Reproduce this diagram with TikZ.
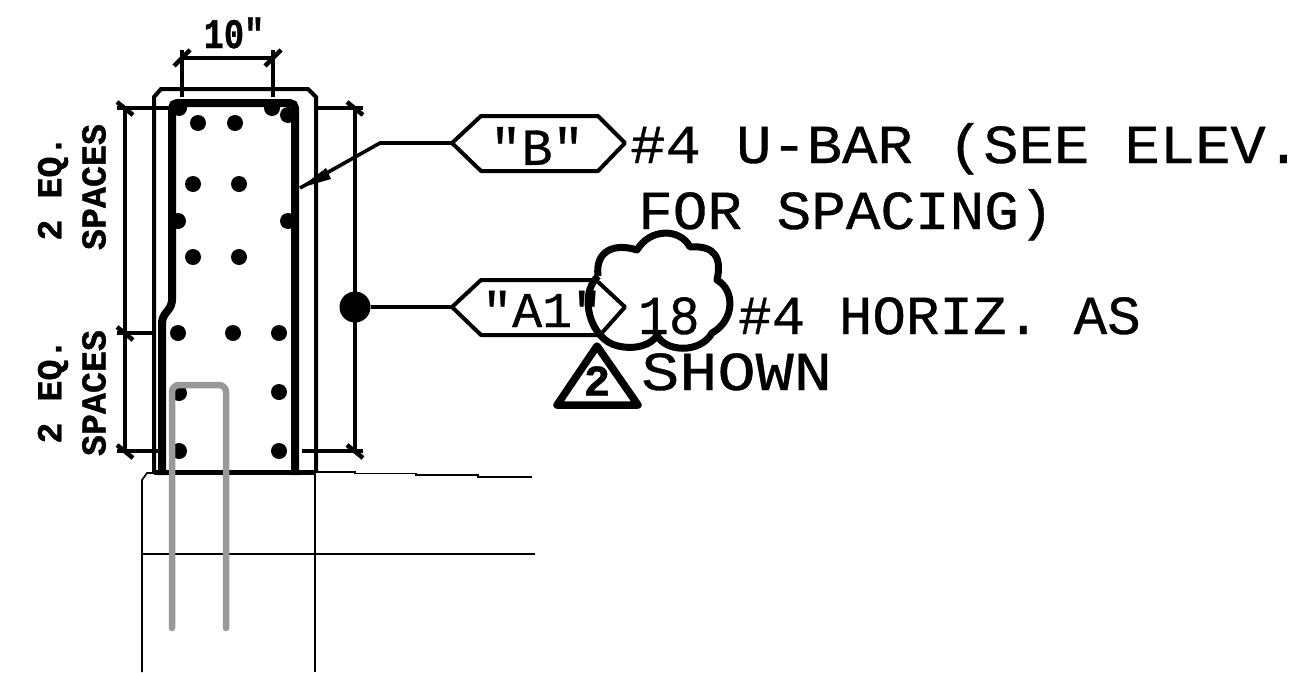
\documentclass[tikz,border=0pt]{standalone}
\usepackage{fontspec}
\usepackage{xcolor}
\setmainfont{Liberation Mono}
\newfontfamily\notefont[FakeBold=0.6]{Liberation Mono}
\newfontfamily\dimfont[FakeBold=1]{Liberation Mono Bold}
\definecolor{dowelgray}{HTML}{999999}
\tikzset{
  wall/.style={line width=4pt},
  rebar/.style={line width=8pt},
  dimline/.style={line width=4pt},
  thinline/.style={line width=1.6pt},
  leader/.style={line width=3.6pt},
  tagbox/.style={line width=4pt,line join=round},
  bardot/.style={circle,fill=black,inner sep=0pt,minimum size=16pt},
  note/.style={anchor=base west,inner sep=0pt,font=\notefont\fontsize{55}{55}\selectfont,xscale=1.07},
  dimtext/.style={inner sep=0pt,font=\dimfont\fontsize{35}{35}\selectfont}
}
\newcommand{\dimtick}[1]{\draw[line width=4.5pt] ($(#1)+(-8,-6)$)--($(#1)+(8,7)$);}
\usetikzlibrary{calc}
\begin{document}
\begin{tikzpicture}[x=1pt,y=-1pt]
\useasboundingbox (0,0) rectangle (1305,672);

% slab and stem below
\draw[thinline] (160,473)--(147,473)--(142,480)--(142,672);
\draw[thinline] (315,472)--(315,672);
\draw[thinline] (142,554)--(535,554);
\draw[thinline] (315,472)--(355,472)--(355,473.5)--(416,473.5)--(416,475)--(478,475)--(478,477)--(532,477);

% stem outline
\draw[wall] (154,472)--(154,97)--(161,89)--(308,89)--(316,97)--(316,472);
\draw[line width=5pt] (154,472)--(316,472);

% bars
\draw[rebar,rounded corners=5pt] (162,475)--(162,318)--(172,305)--(172,103)--(295,103)--(295,475);
\node[bardot] (c1) at (179,108) {};
\node[bardot] (c2) at (272,108) {};
\node[bardot] (c3) at (288,115) {};
\node[bardot] (d1) at (198,123) {};
\node[bardot] (d2) at (235,123) {};
\node[bardot] (d3) at (193,184) {};
\node[bardot] (d4) at (239,184) {};
\node[bardot] (d5) at (178,221) {};
\node[bardot] (d6) at (288,221) {};
\node[bardot] (d7) at (193,257) {};
\node[bardot] (d8) at (239,257) {};
\node[bardot] (e1) at (178,333) {};
\node[bardot] (e2) at (233,333) {};
\node[bardot] (e3) at (279,333) {};
\node[bardot] (f1) at (179,393) {};
\node[bardot] (f2) at (279,392) {};
\node[bardot] (g1) at (179,451) {};
\node[bardot] (g2) at (279,451) {};

% dowel
\draw[line width=6.5pt,color=dowelgray,rounded corners=7pt,line cap=round] (172,628)--(172,385)--(226,385)--(226,628);

% dimensions
\coordinate (ta) at (182,58);
\coordinate (tb) at (273,58);
\coordinate (la) at (125,108);
\coordinate (lb) at (125,333);
\coordinate (lc) at (125,451);
\coordinate (ra) at (355,108);
\coordinate (rc) at (355,451);
\draw[dimline] (ta)--(tb);
\draw[dimline] (182,50)--(182,97);
\draw[dimline] (273,50)--(273,97);
\draw[line width=4.5pt] (174,66)--(190,50);
\draw[line width=4.5pt] (265,66)--(281,50);
\draw[dimline] (la)--(lc);
\draw[dimline] (ra)--(rc);
\draw[dimline] (117,108)--(172,108);
\draw[dimline] (117,333)--(154,333);
\draw[dimline] (117,451)--(160,451);
\draw[dimline] (316,108)--(363,108);
\draw[dimline] (302,451)--(363,451);
\dimtick{la}
\dimtick{lb}
\dimtick{lc}
\dimtick{ra}
\dimtick{rc}
\node[dimtext,xscale=0.8,font=\dimfont\fontsize{42}{42}\selectfont] (w) at (234,33) {10"};
\node[dimtext,rotate=90] (s1) at (53,188) {2 EQ.};
\node[dimtext,rotate=90] (s2) at (94,187) {SPACES};
\node[dimtext,rotate=90] (s3) at (53,391) {2 EQ.};
\node[dimtext,rotate=90] (s4) at (94,393) {SPACES};

% tag B
\coordinate (bl) at (452,143);
\coordinate (br) at (625,143);
\coordinate (bk) at (380,143);
\coordinate (bt) at (300,188);
\draw[tagbox] (bl)--(481,116)--(598,116)--(br)--(598,171)--(481,171)--cycle;
\node[inner sep=0pt,font=\notefont\fontsize{52}{52}\selectfont] (bn) at (537,146) {"B"};
\draw[leader] (bl)--(bk)--(bt);
\fill (bt)--(326,168)--(331,179)--cycle;

% tag A1
\coordinate (al) at (452,307);
\coordinate (ar) at (625,307);
\node[bardot,minimum size=31pt] (big) at (355,307) {};
\draw[leader] (big)--(al);
\draw[tagbox] (600,335)--(481,335)--(al)--(481,280)--(596,280);
\draw[tagbox] (596,280)--(ar)--(600,335);
\node[inner sep=0pt,anchor=base west,font=\notefont\fontsize{50}{50}\selectfont] (an) at (482,327) {"A1"};

% revision cloud
\draw[line width=7pt,line join=round] (598,276)
  .. controls (578,295) and (590,340) .. (618,346)
  .. controls (635,350) and (652,345) .. (657,335)
  .. controls (665,352) and (700,354) .. (712,333)
  .. controls (735,320) and (735,290) .. (717,280)
  .. controls (722,258) and (715,245) .. (690,247)
  .. controls (680,228) and (650,228) .. (637,250)
  .. controls (615,243) and (595,250) .. (598,276);

% revision triangle
\draw[line width=7.5pt,line join=round] (597,346)--(557,405)--(638,405)--cycle;
\node[inner sep=0pt,font=\dimfont\fontsize{44}{44}\selectfont] (rev) at (597,381) {2};

% notes
\node[note] (n1) at (630,163) {\#4 U-BAR (SEE ELEV.};
\node[note,xscale=0.98] (n2) at (638,229) {FOR SPACING)};
\node[note,xscale=0.87] (n3) at (638,334) {18};
\node[note,xscale=0.95] (n4) at (738,334) {\#4 HORIZ. AS};
\node[note,xscale=1.08] (n5) at (641,390) {SHOWN};
\end{tikzpicture}
\end{document}
